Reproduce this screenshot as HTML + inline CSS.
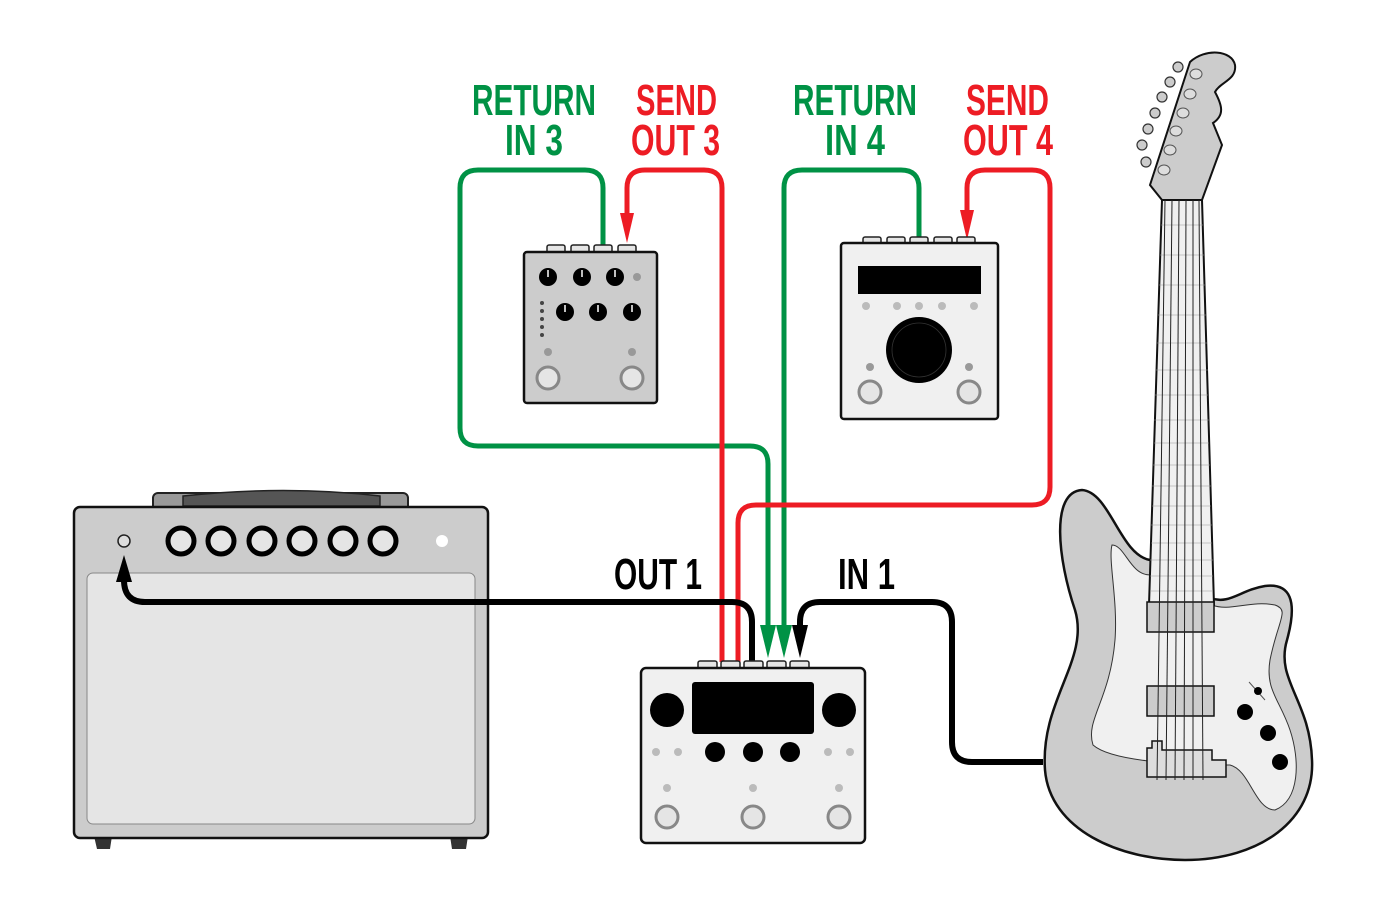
<!DOCTYPE html>
<html><head><meta charset="utf-8"><style>html,body{margin:0;padding:0;background:#fff}svg{display:block}</style></head>
<body>
<svg width="1388" height="914" viewBox="0 0 1388 914" xmlns="http://www.w3.org/2000/svg">
<g font-family="'Liberation Sans', sans-serif" font-weight="bold" font-size="44">
<text x="472" y="115" fill="#009245" textLength="124" lengthAdjust="spacingAndGlyphs">RETURN</text>
<text x="505" y="155" fill="#009245" textLength="58" lengthAdjust="spacingAndGlyphs">IN 3</text>
<text x="636" y="115" fill="#ed1c24" textLength="81" lengthAdjust="spacingAndGlyphs">SEND</text>
<text x="631" y="155" fill="#ed1c24" textLength="89" lengthAdjust="spacingAndGlyphs">OUT 3</text>
<text x="793" y="115" fill="#009245" textLength="124" lengthAdjust="spacingAndGlyphs">RETURN</text>
<text x="825" y="155" fill="#009245" textLength="60" lengthAdjust="spacingAndGlyphs">IN 4</text>
<text x="966" y="115" fill="#ed1c24" textLength="83" lengthAdjust="spacingAndGlyphs">SEND</text>
<text x="963" y="155" fill="#ed1c24" textLength="90" lengthAdjust="spacingAndGlyphs">OUT 4</text>
<text x="614" y="589" fill="#000" textLength="88" lengthAdjust="spacingAndGlyphs">OUT 1</text>
<text x="838" y="589" fill="#000" textLength="57" lengthAdjust="spacingAndGlyphs">IN 1</text>
</g>

<!-- Amp -->
<rect x="153" y="493" width="255" height="18" rx="5" fill="#999" stroke="#222" stroke-width="2"/>
<path d="M183,496 Q285,485 380,496 L380,506 L183,506 Z" fill="#555" stroke="#222" stroke-width="1.5"/>
<path d="M94,836 L112,836 L110,849 L97,849 Z" fill="#333"/>
<path d="M450,836 L468,836 L466,849 L452,849 Z" fill="#333"/>
<rect x="74" y="507" width="414" height="331" rx="6" fill="#ccc" stroke="#111" stroke-width="2.5"/>
<rect x="87" y="573" width="388" height="251" rx="6" fill="#e5e5e5" stroke="#888" stroke-width="1"/>
<circle cx="124" cy="541" r="6" fill="#ddd" stroke="#222" stroke-width="1.5"/>
<g fill="#e5e5e5" stroke="#000" stroke-width="5">
<circle cx="181" cy="541" r="13"/><circle cx="221" cy="541" r="13"/><circle cx="262" cy="541" r="13"/>
<circle cx="302" cy="541" r="13"/><circle cx="343" cy="541" r="13"/><circle cx="383" cy="541" r="13"/>
</g>
<circle cx="442" cy="541" r="6" fill="#fff"/>

<!-- Cables green/red -->
<g fill="none" stroke-width="5">
<path d="M603,248 L603,188 Q603,170 585,170 L478,170 Q460,170 460,188 L460,428 Q460,446 478,446 L750,446 Q768,446 768,464 L768,630" stroke="#009245"/>
<path d="M919,240 L919,188 Q919,170 901,170 L802,170 Q784,170 784,188 L784,630" stroke="#009245"/>
<path d="M722,662 L722,188 Q722,170 704,170 L645,170 Q627,170 627,188 L627,215" stroke="#ed1c24"/>
<path d="M738,662 L738,523 Q738,505 756,505 L1032,505 Q1050,505 1050,487 L1050,188 Q1050,170 1032,170 L985,170 Q967,170 967,188 L967,212" stroke="#ed1c24"/>
</g>
<polygon points="620,213 634,213 627,243" fill="#ed1c24"/>
<polygon points="960,210 974,210 967,240" fill="#ed1c24"/>
<polygon points="760,625 776,625 768,658" fill="#009245"/>
<polygon points="776,625 792,625 784,658" fill="#009245"/>

<!-- Black cables -->
<g fill="none" stroke="#000" stroke-width="6">
<path d="M752,664 L752,622 Q752,602 732,602 L145,602 Q124,602 124,580"/>
<path d="M1043,762 L972,762 Q952,762 952,742 L952,622 Q952,602 932,602 L820,602 Q800,602 800,622 L800,630"/>
</g>
<polygon points="116,582 132,582 124,555" fill="#000"/>
<polygon points="792,625 808,625 800,658" fill="#000"/>

<!-- Main pedal -->
<g fill="#e5e5e5" stroke="#222" stroke-width="1.5">
<rect x="698" y="661" width="19" height="8" rx="2"/><rect x="721" y="661" width="19" height="8" rx="2"/>
<rect x="744" y="661" width="19" height="8" rx="2"/><rect x="767" y="661" width="19" height="8" rx="2"/>
<rect x="790" y="661" width="19" height="8" rx="2"/>
</g>
<rect x="641" y="668" width="224" height="175" rx="5" fill="#f0f0f0" stroke="#111" stroke-width="2.5"/>
<rect x="692" y="682" width="122" height="52" rx="3" fill="#000"/>
<circle cx="667" cy="710" r="17"/><circle cx="839" cy="710" r="17"/>
<circle cx="715" cy="752" r="10"/><circle cx="753" cy="752" r="10"/><circle cx="790" cy="752" r="10"/>
<g fill="#bbb"><circle cx="656" cy="752" r="4"/><circle cx="678" cy="752" r="4"/><circle cx="828" cy="752" r="4"/><circle cx="850" cy="752" r="4"/>
<circle cx="667" cy="788" r="4"/><circle cx="753" cy="788" r="4"/><circle cx="839" cy="788" r="4"/></g>
<g fill="#e5e5e5" stroke="#888" stroke-width="3"><circle cx="667" cy="817" r="11"/><circle cx="753" cy="817" r="11"/><circle cx="839" cy="817" r="11"/></g>

<!-- Pedal 3 -->
<g fill="#e5e5e5" stroke="#222" stroke-width="1.5">
<rect x="547" y="245" width="18" height="8" rx="2"/><rect x="571" y="245" width="18" height="8" rx="2"/>
<rect x="594" y="245" width="18" height="8" rx="2"/><rect x="618" y="245" width="18" height="8" rx="2"/>
</g>
<rect x="524" y="252" width="133" height="151" rx="3" fill="#ccc" stroke="#111" stroke-width="2.5"/>
<circle cx="548" cy="277" r="9"/><circle cx="582" cy="277" r="9"/><circle cx="615" cy="277" r="9"/>
<circle cx="565" cy="312" r="9"/><circle cx="598" cy="312" r="9"/><circle cx="632" cy="312" r="9"/>
<g stroke="#fff" stroke-width="1.5"><line x1="548" y1="270" x2="548" y2="277"/><line x1="582" y1="270" x2="582" y2="277"/><line x1="615" y1="270" x2="615" y2="277"/><line x1="565" y1="305" x2="565" y2="312"/><line x1="598" y1="305" x2="598" y2="312"/><line x1="632" y1="305" x2="632" y2="312"/></g>
<circle cx="637" cy="277" r="4" fill="#999"/>
<g fill="#444"><circle cx="542" cy="303" r="2"/><circle cx="542" cy="311" r="2"/><circle cx="542" cy="319" r="2"/><circle cx="542" cy="327" r="2"/><circle cx="542" cy="335" r="2"/></g>
<circle cx="548" cy="352" r="4" fill="#999"/><circle cx="632" cy="352" r="4" fill="#999"/>
<g fill="#e5e5e5" stroke="#888" stroke-width="3"><circle cx="548" cy="378" r="11"/><circle cx="632" cy="378" r="11"/></g>

<!-- Pedal 4 -->
<g fill="#e5e5e5" stroke="#222" stroke-width="1.5">
<rect x="863" y="237" width="18" height="7" rx="2"/><rect x="887" y="237" width="18" height="7" rx="2"/>
<rect x="910" y="237" width="18" height="7" rx="2"/><rect x="934" y="237" width="18" height="7" rx="2"/>
<rect x="957" y="237" width="18" height="7" rx="2"/>
</g>
<rect x="841" y="243" width="157" height="176" rx="3" fill="#f0f0f0" stroke="#111" stroke-width="2.5"/>
<rect x="858" y="266" width="123" height="28" fill="#000"/>
<g fill="#bbb"><circle cx="866" cy="306" r="4"/><circle cx="897" cy="306" r="4"/><circle cx="919" cy="306" r="4"/><circle cx="942" cy="306" r="4"/><circle cx="974" cy="306" r="4"/></g>
<circle cx="919" cy="350" r="33"/><circle cx="919" cy="350" r="27" fill="none" stroke="#333" stroke-width="0.8"/>
<circle cx="870" cy="367" r="4" fill="#999"/><circle cx="969" cy="367" r="4" fill="#999"/>
<g fill="#e5e5e5" stroke="#888" stroke-width="3"><circle cx="870" cy="392" r="11"/><circle cx="969" cy="392" r="11"/></g>

<!-- Guitar -->
<path d="M1150,560 C1120,555 1110,492 1082,490 C1050,492 1058,560 1075,610 C1090,660 1040,700 1045,770 C1050,830 1120,860 1185,860 C1260,860 1315,820 1312,760 C1310,700 1275,680 1287,640 C1298,600 1290,583 1265,586 C1240,590 1230,605 1210,598 Z" fill="#ccc" stroke="#111" stroke-width="2.5"/>
<path d="M1150,575 C1130,575 1125,545 1112,545 C1108,560 1118,600 1115,640 C1110,700 1085,720 1093,745 C1110,760 1170,765 1230,765 C1250,770 1255,810 1275,810 C1300,800 1300,760 1290,730 C1280,700 1265,690 1270,660 C1278,620 1290,610 1275,605 C1250,600 1230,612 1212,605 Z" fill="#f0f0f0" stroke="#333" stroke-width="1"/>
<polygon points="1162,200 1202,200 1214,605 1149,605" fill="#f0f0f0" stroke="#111" stroke-width="2"/>
<g stroke="#999" stroke-width="0.6">
<line x1="1161" y1="225" x2="1203" y2="225"/><line x1="1160" y1="255" x2="1204" y2="255"/><line x1="1159" y1="285" x2="1205" y2="285"/>
<line x1="1158" y1="315" x2="1206" y2="315"/><line x1="1157" y1="343" x2="1207" y2="343"/><line x1="1156" y1="370" x2="1208" y2="370"/>
<line x1="1155" y1="395" x2="1208" y2="395"/><line x1="1154" y1="420" x2="1209" y2="420"/><line x1="1154" y1="443" x2="1209" y2="443"/>
<line x1="1153" y1="465" x2="1210" y2="465"/><line x1="1152" y1="486" x2="1211" y2="486"/><line x1="1152" y1="506" x2="1211" y2="506"/>
<line x1="1151" y1="525" x2="1212" y2="525"/><line x1="1151" y1="543" x2="1212" y2="543"/><line x1="1150" y1="560" x2="1213" y2="560"/>
<line x1="1150" y1="576" x2="1213" y2="576"/><line x1="1150" y1="591" x2="1213" y2="591"/>
</g>
<path d="M1162,200 L1150,185 L1190,62 C1205,48 1232,50 1235,65 C1237,80 1220,82 1215,92 C1222,105 1225,115 1213,123 L1222,145 L1202,200 Z" fill="#ccc" stroke="#111" stroke-width="2"/>
<g fill="#ccc" stroke="#333" stroke-width="1.2">
<circle cx="1178" cy="67" r="5"/><circle cx="1170" cy="82" r="5"/><circle cx="1162" cy="97" r="5"/>
<circle cx="1155" cy="113" r="5"/><circle cx="1148" cy="129" r="5"/><circle cx="1142" cy="145" r="5"/><circle cx="1146" cy="162" r="5"/>
</g>
<g fill="#ddd" stroke="#555" stroke-width="1">
<ellipse cx="1196" cy="74" rx="6" ry="5"/><ellipse cx="1190" cy="94" rx="6" ry="5"/><ellipse cx="1183" cy="113" rx="6" ry="5"/>
<ellipse cx="1176" cy="131" rx="6" ry="5"/><ellipse cx="1170" cy="150" rx="6" ry="5"/><ellipse cx="1164" cy="170" rx="6" ry="5"/>
</g>
<rect x="1147" y="602" width="67" height="30" fill="#ccc" stroke="#111" stroke-width="1.5"/>
<rect x="1147" y="686" width="67" height="30" fill="#ccc" stroke="#111" stroke-width="1.5"/>
<path d="M1147,748 L1152,748 L1152,741 L1162,741 L1162,750 L1212,750 L1212,760 L1226,760 L1226,777 L1147,777 Z" fill="#ddd" stroke="#111" stroke-width="1.5"/>
<g stroke="#222" stroke-width="1">
<line x1="1165" y1="200" x2="1157" y2="780"/><line x1="1172" y1="200" x2="1166" y2="780"/><line x1="1179" y1="200" x2="1175" y2="780"/>
<line x1="1186" y1="200" x2="1184" y2="780"/><line x1="1193" y1="200" x2="1193" y2="780"/><line x1="1199" y1="200" x2="1203" y2="780"/>
</g>
<line x1="1249" y1="682" x2="1265" y2="700" stroke="#555" stroke-width="1"/>
<circle cx="1258" cy="691" r="4"/>
<circle cx="1245" cy="712" r="8"/><circle cx="1268" cy="733" r="8"/><circle cx="1280" cy="762" r="8"/>
</svg>
</body></html>
